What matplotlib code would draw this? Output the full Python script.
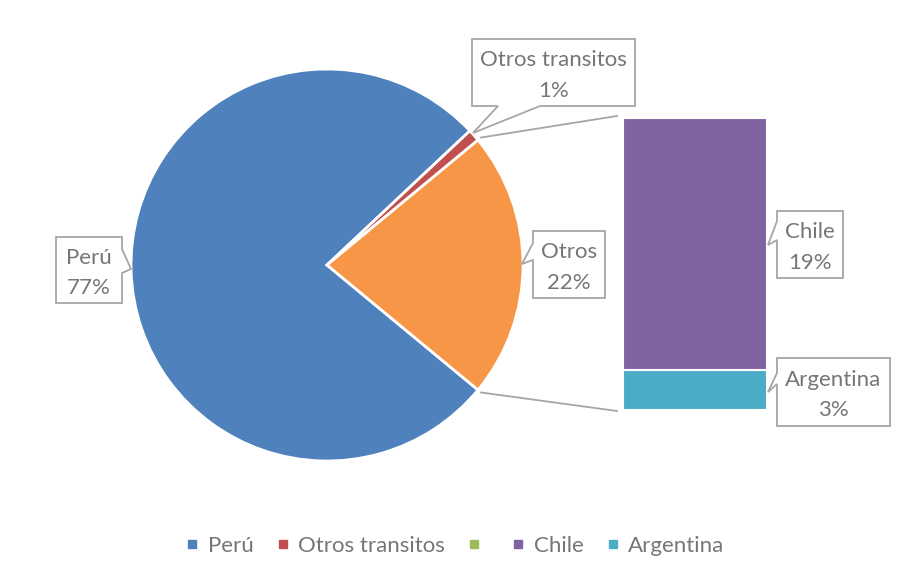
import numpy as np
import matplotlib
matplotlib.use("Agg")
import matplotlib.pyplot as plt
from matplotlib.patches import Polygon
from matplotlib.lines import Line2D

plt.rcParams['font.family'] = ['Lato', 'DejaVu Sans']

# data
pie_labels = ['Perú', 'Otros transitos', 'Otros']
pie_values = [77, 1, 22]
bar_labels = ['Argentina', 'Chile']
bar_values = [3, 19]
legend_labels = ['Perú', 'Otros transitos', '', 'Chile', 'Argentina']

pie_colors = ['#4F81BD', '#C0504D', '#F79646']
bar_colors = ['#4BACC6', '#8064A2']
legend_colors = ['#4F81BD', '#C0504D', '#9BBB59', '#8064A2', '#4BACC6']

W, H = 921, 579
txt_col = '#767676'
box_col = '#a6a6a6'
fs = 16


def Y(py):
    return H - py


fig = plt.figure(figsize=(W / 100, H / 100), dpi=100)
ax = fig.add_axes([0, 0, 1, 1])

# pie, "Otros" centred on the right
total = sum(pie_values)
start = 360 - 180 * pie_values[2] / total
cx, cy, r = 327, Y(265), 196
ax.pie(pie_values, colors=pie_colors, startangle=start, counterclock=False,
       center=(cx, cy), radius=r,
       wedgeprops=dict(edgecolor='white', linewidth=2))

# bar of the "Otros" slice
bx, bw = 695, 144
k = 292 / sum(bar_values)
bottom = Y(410)
for lab, v, c in zip(bar_labels, bar_values, bar_colors):
    ax.bar(bx, v * k, width=bw, bottom=bottom, color=c,
           edgecolor='white', linewidth=1.5)
    bottom += v * k
bar_top = bottom

# connector lines
half = np.radians(180 * pie_values[2] / total)
ax.plot([cx + (r + 4) * np.cos(half), bx - bw / 2 - 6],
        [cy + (r + 4) * np.sin(half), bar_top + 2], color=box_col, lw=1.3)
ax.plot([cx + (r + 4) * np.cos(half), bx - bw / 2 - 6],
        [cy - (r + 4) * np.sin(half), Y(410) - 1], color=box_col, lw=1.3)


def callout(box, side, b1, b2, tip, text):
    x0, y0, x1, y1 = box
    if side == 'bottom':
        pts = [(x0, y0), (x1, y0), (x1, y1), (b2, y1), tip, (b1, y1), (x0, y1)]
    elif side == 'left':
        pts = [(x0, y0), (x1, y0), (x1, y1), (x0, y1), (x0, b2), tip, (x0, b1)]
    else:
        pts = [(x0, y0), (x1, y0), (x1, b1), tip, (x1, b2), (x1, y1), (x0, y1)]
    pts = [(px, Y(py)) for px, py in pts]
    ax.add_patch(Polygon(pts, closed=True, facecolor='white',
                         edgecolor=box_col, lw=1.3, zorder=5))
    ax.text((x0 + x1) / 2, Y((y0 + y1) / 2 + 3), text, ha='center', va='center',
            color=txt_col, fontsize=fs, linespacing=1.65, zorder=6)


pct = [f'{v}%' for v in pie_values]
callout((56, 237, 122, 303), 'right', 249, 273, (131, 269), f'{pie_labels[0]}\n{pct[0]}')
callout((472, 39, 635, 106), 'bottom', 498, 540, (473, 133), f'{pie_labels[1]}\n{pct[1]}')
callout((533, 231, 605, 298), 'left', 243, 260, (522, 264), f'{pie_labels[2]}\n{pct[2]}')
callout((777, 211, 843, 278), 'left', 221, 240, (768, 245), f'{bar_labels[1]}\n{bar_values[1]}%')
callout((777, 358, 890, 426), 'left', 373, 384, (768, 392), f'{bar_labels[0]}\n{bar_values[0]}%')

handles = [Line2D([], [], marker='s', ls='', color=c, markersize=6) for c in legend_colors]
ax.legend(handles, legend_labels, loc='center', bbox_to_anchor=(455 / W, 1 - 546 / H),
          ncol=5, frameon=False, fontsize=fs, labelcolor=txt_col,
          handlelength=0.6, handletextpad=0.4, columnspacing=1.0)

ax.set_xlim(0, W)
ax.set_ylim(0, H)
ax.set_aspect('equal')
ax.axis('off')

fig.savefig('out.png', dpi=100)
